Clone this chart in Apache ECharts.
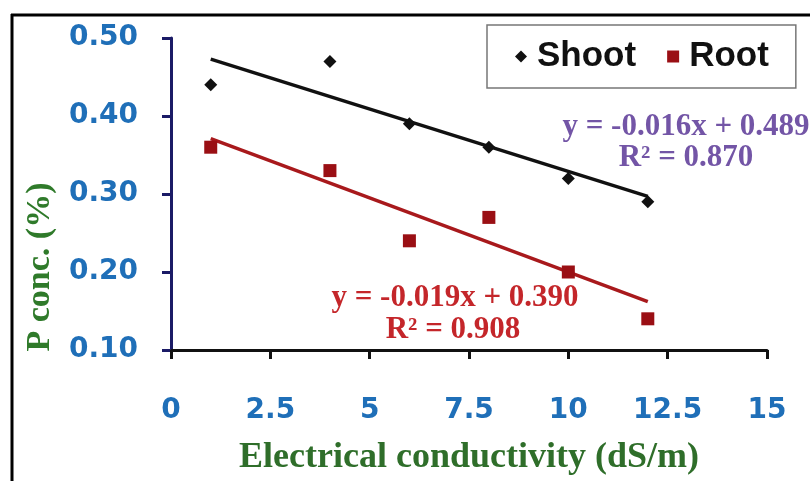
<!DOCTYPE html>
<html>
<head>
<meta charset="utf-8">
<script src="https://cdn.jsdelivr.net/npm/echarts@6/dist/echarts.min.js"></script>
<style>
  html, body { margin: 0; padding: 0; background: #fff; }
  #chart { width: 810px; height: 481px; }
</style>
</head>
<body>
<div id="chart"></div>
<script>
// Electrical conductivity levels (dS/m)
const ecLevels = [1, 4, 6, 8, 10, 12];
// Phosphorus concentration (%)
const shootP = [0.44, 0.47, 0.39, 0.36, 0.32, 0.29];
const rootP = [0.36, 0.33, 0.24, 0.27, 0.20, 0.14];
// Linear fits: [slope, intercept, R²]
const shootFit = [-0.016, 0.489, 0.870];
const rootFit = [-0.019, 0.390, 0.908];
const xTicks = [0, 2.5, 5, 7.5, 10, 12.5, 15];
const yTicks = [0.10, 0.20, 0.30, 0.40, 0.50];

const pairs = (xs, ys) => xs.map((x, i) => [x, ys[i]]);
const fitLine = (fit) => {
  const x0 = ecLevels[0], x1 = ecLevels[ecLevels.length - 1];
  return [[x0, fit[0] * x0 + fit[1]], [x1, fit[0] * x1 + fit[1]]];
};
const eqText = (fit) => 'y = ' + fit[0].toFixed(3) + 'x + ' + fit[1].toFixed(3);
const r2Text = (fit) => 'R² = ' + fit[2].toFixed(3);

const serif = '"Liberation Serif", "Times New Roman", serif';
const sans = '"Liberation Sans", Arial, sans-serif';
const wideSans = '"DejaVu Sans", Verdana, sans-serif';

const chart = echarts.init(document.getElementById('chart'), null, { renderer: 'canvas' });

chart.setOption({
  backgroundColor: '#fff',
  animation: false,
  grid: { left: 171, right: 43, top: 38, bottom: 131 },
  xAxis: {
    type: 'value',
    min: xTicks[0], max: xTicks[xTicks.length - 1], interval: 2.5,
    name: 'Electrical conductivity (dS/m)',
    nameLocation: 'middle',
    nameGap: 90,
    nameTextStyle: { color: '#2f6e2a', fontFamily: serif, fontWeight: 'bold', fontSize: 36 },
    axisLine: { lineStyle: { color: '#111', width: 3 } },
    axisTick: { show: true, length: 9, lineStyle: { color: '#111', width: 3 } },
    axisLabel: { color: '#1f6fb8', fontFamily: wideSans, fontWeight: 'bold', fontSize: 28, margin: 47,
      formatter: (v) => String(v) },
    splitLine: { show: false }
  },
  yAxis: {
    type: 'value',
    min: yTicks[0], max: yTicks[yTicks.length - 1], interval: 0.1,
    axisLine: { show: true, lineStyle: { color: '#1b1b66', width: 3 } },
    axisTick: { show: true, length: 9, lineStyle: { color: '#1b1b66', width: 3 } },
    axisLabel: { color: '#1f6fb8', fontFamily: wideSans, fontWeight: 'bold', fontSize: 28, margin: 33,
      formatter: (v) => v.toFixed(2) },
    splitLine: { show: false }
  },
  legend: {
    left: 487, top: 25,
    padding: [14, 27, 14, 28],
    itemGap: 31,
    itemWidth: 22, itemHeight: 12,
    symbolKeepAspect: true,
    borderColor: '#777', borderWidth: 1.5,
    backgroundColor: '#fff',
    textStyle: { color: '#111', fontFamily: sans, fontWeight: 'bold', fontSize: 35 },
    data: [
      { name: 'Shoot', icon: 'path://M0,-1L1,0L0,1L-1,0Z' },
      { name: 'Root', icon: 'path://M0,0H1V1H0Z' }
    ]
  },
  series: [
    {
      name: 'Shoot', type: 'scatter', symbol: 'diamond', symbolSize: 13,
      itemStyle: { color: '#111', opacity: 1 },
      data: pairs(ecLevels, shootP), z: 5
    },
    {
      name: 'Root', type: 'scatter', symbol: 'rect', symbolSize: 13,
      itemStyle: { color: '#9a0f14', opacity: 1 },
      data: pairs(ecLevels, rootP), z: 5
    },
    {
      name: 'Shoot fit', type: 'line', showSymbol: false, silent: true,
      lineStyle: { color: '#111', width: 3.5 },
      data: fitLine(shootFit), z: 3
    },
    {
      name: 'Root fit', type: 'line', showSymbol: false, silent: true,
      lineStyle: { color: '#a8191c', width: 3.5 },
      data: fitLine(rootFit), z: 3
    }
  ],
  graphic: [
    // outer frame: left and top edges
    { type: 'line', shape: { x1: 12, y1: 14, x2: 12, y2: 481 }, style: { stroke: '#000', lineWidth: 3 } },
    { type: 'line', shape: { x1: 11, y1: 15, x2: 810, y2: 15 }, style: { stroke: '#000', lineWidth: 3 } },
    {
      type: 'text', x: 40, y: 267, rotation: Math.PI / 2, z: 10,
      style: { text: 'P conc. (%)', fill: '#2f7a2a', font: 'bold 34px ' + serif,
        textAlign: 'center', textVerticalAlign: 'middle' }
    },
    {
      type: 'text', x: 686, y: 127, z: 10,
      style: { text: eqText(shootFit), fill: '#7355a6', font: 'bold 31px ' + serif,
        textAlign: 'center', textVerticalAlign: 'middle' }
    },
    {
      type: 'text', x: 686, y: 158, z: 10,
      style: { text: r2Text(shootFit), fill: '#7355a6', font: 'bold 31px ' + serif,
        textAlign: 'center', textVerticalAlign: 'middle' }
    },
    {
      type: 'text', x: 455, y: 298, z: 10,
      style: { text: eqText(rootFit), fill: '#c4262a', font: 'bold 31px ' + serif,
        textAlign: 'center', textVerticalAlign: 'middle' }
    },
    {
      type: 'text', x: 453, y: 330, z: 10,
      style: { text: r2Text(rootFit), fill: '#c4262a', font: 'bold 31px ' + serif,
        textAlign: 'center', textVerticalAlign: 'middle' }
    }
  ]
});
</script>
</body>
</html>
